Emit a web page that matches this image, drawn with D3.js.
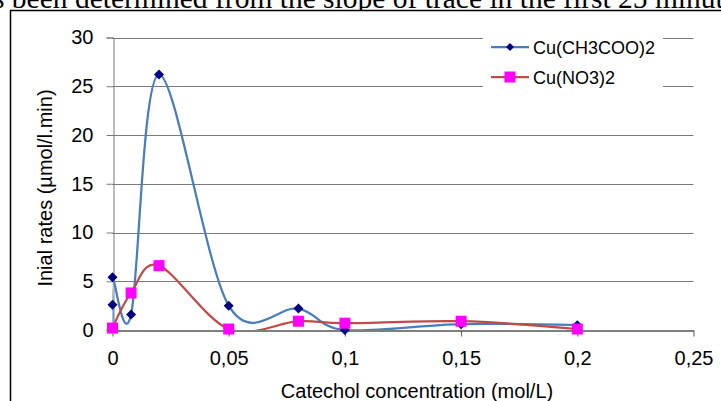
<!DOCTYPE html>
<html><head><meta charset="utf-8">
<script src="https://cdn.jsdelivr.net/npm/d3@7"></script>
<style>body{margin:0;background:#fff;overflow:hidden}svg{display:block}</style>
</head><body>
<script>
// data
const seriesNames = ["Cu(CH3COO)2", "Cu(NO3)2"];
const xAcetate = [0, 0, 0, 0.008, 0.02, 0.05, 0.08, 0.1, 0.15, 0.2];
const yAcetate = [0.2, 2.6, 5.4, 1.6, 26.2, 2.5, 2.2, 0, 0.6, 0.5];
const xNitrate = [0, 0.008, 0.02, 0.05, 0.08, 0.1, 0.15, 0.2];
const yNitrate = [0.2, 3.8, 6.6, 0.1, 0.9, 0.7, 0.9, 0.1];
const xTicks = [0, 0.05, 0.1, 0.15, 0.2, 0.25];
const yTicks = [0, 5, 10, 15, 20, 25, 30];
const xLabel = "Catechol concentration (mol/L)";
const yLabel = "Inial rates (µmol/l.min)";
const topText = "s been determined from the slope of trace in the first 25 minutes";

const W = 721, H = 401;
const svg = d3.select("body").append("svg").attr("width", W).attr("height", H);
const font = "'Liberation Sans', Arial, sans-serif";

// page text above the chart
svg.append("text").attr("x", -7).attr("y", 8).attr("font-family", "'Liberation Serif','Times New Roman',serif")
  .attr("font-size", 29.5).attr("fill", "#000").text(topText);

// frame
svg.append("rect").attr("x", 10.5).attr("y", 10.5).attr("width", 800).attr("height", 500)
  .attr("fill", "#fff").attr("stroke", "#000").attr("stroke-width", 1.5);

const x = d3.scaleLinear().domain([0, 0.25]).range([112.5, 693.5]);
const y = d3.scaleLinear().domain([0, 30]).range([330, 37.5]);

// gridlines
svg.append("g").selectAll("line").data(yTicks.slice(1)).join("line")
  .attr("x1", x(0)).attr("x2", x(0.25))
  .attr("y1", d => Math.round(y(d)) + 0.5).attr("y2", d => Math.round(y(d)) + 0.5)
  .attr("stroke", "#7a7a7a").attr("stroke-width", 1);

// y axis
const yAxis = svg.append("g").attr("transform", `translate(${Math.round(x(0)) + 0.5},0)`)
  .call(d3.axisLeft(y).tickValues(yTicks).tickSize(7).tickPadding(13).tickFormat(d3.format("d")));
yAxis.select(".domain").attr("stroke", "#7a7a7a");
yAxis.selectAll(".tick line").attr("stroke", "#7a7a7a");
yAxis.selectAll(".tick text").attr("font-family", font).attr("font-size", 20).attr("fill", "#000");

// x axis
const fmt = d => d === 0 ? "0" : String(d).replace(".", ",");
const xAxis = svg.append("g").attr("transform", `translate(0,${Math.round(y(0)) + 0.5})`)
  .call(d3.axisBottom(x).tickValues(xTicks).tickSize(6).tickSizeOuter(0).tickPadding(14).tickFormat(fmt));
xAxis.select(".domain").attr("stroke", "#000");
xAxis.selectAll(".tick line").attr("stroke", "#555");
xAxis.selectAll(".tick text").attr("font-family", font).attr("font-size", 20).attr("fill", "#000");

// titles
svg.append("text").attr("x", 417).attr("y", 398).attr("text-anchor", "middle")
  .attr("font-family", font).attr("font-size", 20).attr("fill", "#000").text(xLabel);
svg.append("text").attr("transform", "translate(52,188) rotate(-90)").attr("text-anchor", "middle")
  .attr("font-family", font).attr("font-size", 20).attr("fill", "#000").text(yLabel);

// clip
svg.append("defs").append("clipPath").attr("id", "plot").append("rect")
  .attr("x", x(0)).attr("y", y(30)).attr("width", x(0.25) - x(0)).attr("height", y(0) - y(30));

const line = d3.line().x(d => x(d[0])).y(d => y(d[1])).curve(d3.curveCardinal.tension(0));
const dA = xAcetate.map((v, i) => [v, yAcetate[i]]);
const dN = xNitrate.map((v, i) => [v, yNitrate[i]]);

svg.append("path").attr("clip-path", "url(#plot)").attr("d", line(dA))
  .attr("fill", "none").attr("stroke", "#4a7ebb").attr("stroke-width", 2.25);
svg.append("path").attr("clip-path", "url(#plot)").attr("d", line(dN))
  .attr("fill", "none").attr("stroke", "#be4b48").attr("stroke-width", 2.25);

const diamond = (cx, cy, r) => `M${cx},${cy - r}L${cx + r},${cy}L${cx},${cy + r}L${cx - r},${cy}Z`;
svg.append("g").selectAll("path").data(dA).join("path")
  .attr("d", d => diamond(x(d[0]), y(d[1]), 5)).attr("fill", "#000080");
svg.append("g").selectAll("rect").data(dN).join("rect")
  .attr("x", d => x(d[0]) - 5.5).attr("y", d => y(d[1]) - 5.5).attr("width", 11).attr("height", 11)
  .attr("fill", "#ff00ff");

// legend
const lg = svg.append("g");
lg.append("rect").attr("x", 483).attr("y", 33).attr("width", 180).attr("height", 60).attr("fill", "#fff");
const ly = [47, 77];
lg.append("line").attr("x1", 491).attr("x2", 529).attr("y1", ly[0]).attr("y2", ly[0]).attr("stroke", "#4a7ebb").attr("stroke-width", 2.25);
lg.append("path").attr("d", diamond(510, ly[0], 4)).attr("fill", "#000080");
lg.append("line").attr("x1", 491).attr("x2", 529).attr("y1", ly[1]).attr("y2", ly[1]).attr("stroke", "#be4b48").attr("stroke-width", 2.25);
lg.append("rect").attr("x", 504.5).attr("y", ly[1] - 5.5).attr("width", 11).attr("height", 11).attr("fill", "#ff00ff");
lg.selectAll("text.l").data(seriesNames).join("text")
  .attr("x", 533).attr("y", (d, i) => ly[i] + 7).attr("font-family", font).attr("font-size", 18).attr("fill", "#000").text(d => d);
</script>
</body></html>
